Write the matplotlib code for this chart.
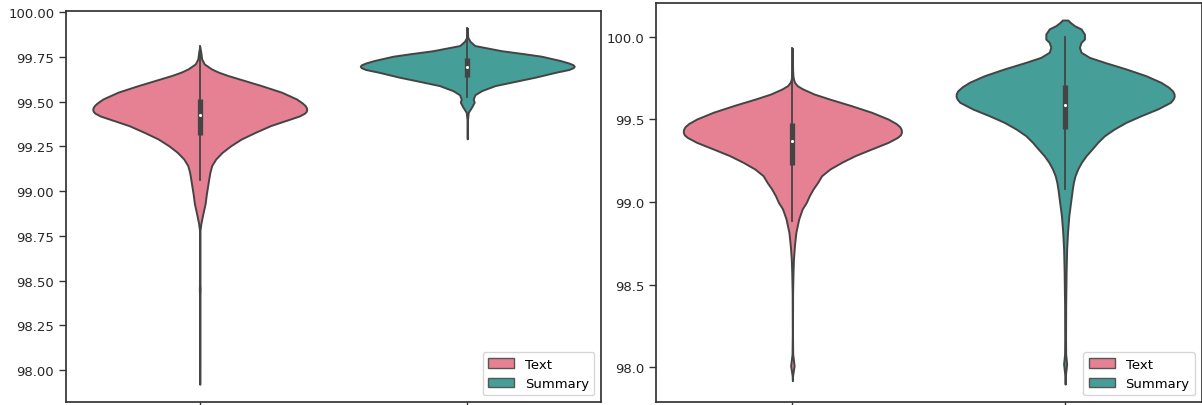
import numpy as np
import matplotlib
matplotlib.use("Agg")
import matplotlib.pyplot as plt
from matplotlib.patches import Patch
from matplotlib.ticker import FormatStrFormatter


# === DATA ===

labels = ["Text", "Summary"]
colors = ["#e68193", "#459e97"]
gray = "#444444"

# left panel, "Text" violin: y levels and relative half-width (1 = widest)
left_text_y = [99.81, 99.776, 99.739, 99.711, 99.683, 99.665, 99.646, 99.618, 99.590,
               99.553, 99.515, 99.492, 99.478, 99.466, 99.456, 99.446, 99.436, 99.42,
               99.404, 99.366, 99.329, 99.292,
               99.254, 99.217, 99.180, 99.143, 99.106, 99.068, 99.041, 98.985, 98.93,
               98.87, 98.82, 98.78, 98.75, 98.50, 98.45, 98.40, 97.92]
left_text_w = [0.0, 0.01, 0.018, 0.042, 0.11, 0.175, 0.265, 0.42, 0.575,
               0.765, 0.905, 0.96, 0.985, 0.997, 1.0, 0.995, 0.98, 0.93,
               0.85, 0.66, 0.52, 0.39,
               0.29, 0.21, 0.15, 0.112, 0.095, 0.084, 0.077, 0.062, 0.05,
               0.028, 0.011, 0.002, 0.001, 0.001, 0.004, 0.001, 0.0]
# whisker low, q1, median, q3, whisker high
left_text_box = [99.063, 99.314, 99.426, 99.515, 99.813]

# left panel, "Summary" violin
left_summ_y = [99.912, 99.860, 99.838, 99.814, 99.804, 99.785, 99.767, 99.754, 99.730,
               99.716, 99.706, 99.698, 99.690, 99.680, 99.665, 99.637, 99.614, 99.590,
               99.562, 99.539, 99.515, 99.497, 99.469, 99.441, 99.394, 99.292]
left_summ_w = [0.0, 0.005, 0.025, 0.07, 0.155, 0.32, 0.545, 0.695, 0.87,
               0.95, 0.99, 1.0, 0.99, 0.95, 0.83, 0.635, 0.45, 0.26,
               0.135, 0.072, 0.056, 0.065, 0.04, 0.01, 0.001, 0.0]
left_summ_box = [99.525, 99.637, 99.693, 99.743, 99.912]

# right panel, "Text" violin
right_text_y = [99.93, 99.80, 99.764, 99.744, 99.724, 99.704, 99.684, 99.653, 99.623,
                99.583, 99.543, 99.502, 99.475, 99.455, 99.438, 99.422, 99.406, 99.391,
                99.361, 99.321, 99.280,
                99.240, 99.200, 99.159, 99.119, 99.079, 99.038, 98.998, 98.958, 98.897,
                98.817, 98.736, 98.655, 98.575, 98.45, 98.2, 98.08, 98.01, 97.95, 97.919]
right_text_w = [0.0, 0.002, 0.005, 0.01, 0.02, 0.044, 0.095, 0.2, 0.34,
                0.54, 0.725, 0.877, 0.95, 0.985, 0.998, 1.0, 0.99, 0.963,
                0.878, 0.726, 0.573,
                0.451, 0.345, 0.268, 0.232, 0.19, 0.155, 0.128, 0.09, 0.058,
                0.032, 0.019, 0.01, 0.006, 0.002, 0.001, 0.003, 0.016, 0.002, 0.0]
right_text_box = [98.887, 99.224, 99.371, 99.476, 99.930]

# right panel, "Summary" violin
right_summ_y = [100.101, 100.087, 100.067, 100.047, 100.016, 99.986, 99.966, 99.936,
                99.906, 99.875, 99.845, 99.805, 99.764, 99.724, 99.696, 99.672, 99.655,
                99.639, 99.623, 99.603,
                99.563, 99.522, 99.482, 99.442, 99.401, 99.361, 99.321, 99.280, 99.240,
                99.200, 99.159, 99.119, 99.079, 99.038, 98.998, 98.917, 98.817, 98.716,
                98.575, 98.373, 98.171, 98.08, 98.02, 97.96, 97.898]
right_summ_w = [0.025, 0.046, 0.085, 0.146, 0.177, 0.177, 0.146, 0.131,
                0.146, 0.223, 0.36, 0.558, 0.741, 0.878, 0.945, 0.985, 0.998,
                1.0, 0.99, 0.965,
                0.848, 0.695, 0.558, 0.451, 0.36, 0.299, 0.247, 0.192, 0.149,
                0.116, 0.091, 0.076, 0.066, 0.058, 0.05, 0.034, 0.022, 0.014,
                0.009, 0.005, 0.004, 0.005, 0.014, 0.004, 0.0]
right_summ_box = [99.079, 99.442, 99.589, 99.708, 99.996]

left_yticks = [98.00, 98.25, 98.50, 98.75, 99.00, 99.25, 99.50, 99.75, 100.00]
right_yticks = [98.0, 98.5, 99.0, 99.5, 100.0]


# === FUNCTIONS ===

def draw_violin(ax, pos, ys, ws, box, color):
    ys = np.array(ys)
    half = np.array(ws) * 0.4
    ax.fill_betweenx(ys, pos - half, pos + half, facecolor=color,
                     edgecolor=gray, linewidth=1.4, zorder=1)
    lo, q1, med, q3, hi = box
    ax.plot([pos, pos], [lo, hi], color=gray, lw=1.3, zorder=2)
    ax.plot([pos, pos], [q1, q3], color=gray, lw=3.8,
            solid_capstyle="butt", zorder=2)
    ax.scatter([pos], [med], s=5, color="white", linewidth=0, zorder=3)


def style_axes(ax, ylim, yticks, fmt):
    ax.set_xlim(-0.5, 1.5)
    ax.set_ylim(*ylim)
    ax.set_xticks([0, 1])
    ax.set_xticklabels(["", ""])
    ax.set_yticks(yticks)
    ax.yaxis.set_major_formatter(FormatStrFormatter(fmt))
    ax.tick_params(length=5, width=1.0, color=".2", labelcolor=".15", labelsize=9.5)
    for sp in ax.spines.values():
        sp.set_color(".2")
        sp.set_linewidth(1.25)
    handles = [Patch(facecolor=c, edgecolor="#555555", linewidth=1, label=l)
               for c, l in zip(colors, labels)]
    ax.legend(handles=handles, loc="lower right", fontsize=9.5)


# === PLOT ===

fig = plt.figure(figsize=(12.02, 4.06), dpi=100)
ax1 = fig.add_axes([0.05491, 0.00739, 0.44509, 0.96305])
ax2 = fig.add_axes([0.54576, 0.00739, 0.45383, 0.98276])

draw_violin(ax1, 0, left_text_y, left_text_w, left_text_box, colors[0])
draw_violin(ax1, 1, left_summ_y, left_summ_w, left_summ_box, colors[1])
style_axes(ax1, (97.821, 100.007), left_yticks, "%.2f")

draw_violin(ax2, 0, right_text_y, right_text_w, right_text_box, colors[0])
draw_violin(ax2, 1, right_summ_y, right_summ_w, right_summ_box, colors[1])
style_axes(ax2, (97.79, 100.204), right_yticks, "%.1f")

fig.savefig("out.png", dpi=100)
